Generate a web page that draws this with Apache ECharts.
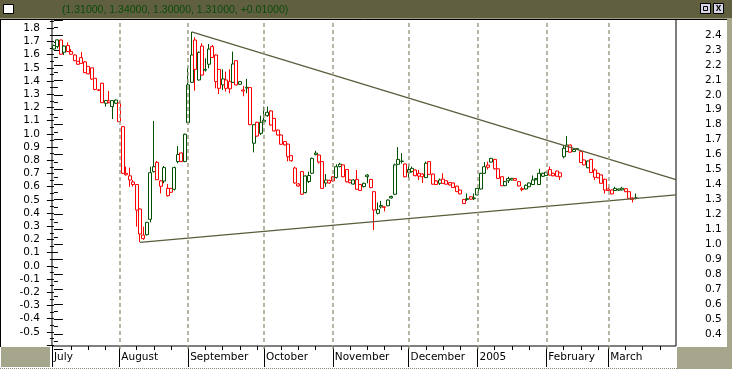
<!DOCTYPE html>
<html><head><meta charset="utf-8">
<script src="https://cdn.jsdelivr.net/npm/echarts@6/dist/echarts.min.js"></script>
<style>html,body{margin:0;padding:0;background:#fff;}#c{width:732px;height:384px;}</style>
</head><body><div id="c"></div>
<script>
// Month labels on the time axis
const monthNames = ['July','August','September','October','November','December','2005','February','March'];
// Header quote: open, high, low, close, change
const headerQuote = [1.31, 1.34, 1.30, 1.31, 0.01];
// Daily bars per month: [open, close, low, high]
const julBars = [
 [2.306,2.329,2.300,2.335],[2.322,2.367,2.310,2.370],[2.366,2.271,2.268,2.370],[2.284,2.326,2.266,2.330],
 [2.329,2.289,2.285,2.350],[2.289,2.271,2.268,2.306],[2.266,2.228,2.225,2.270],[2.204,2.224,2.200,2.226],
 [2.248,2.210,2.207,2.286],[2.220,2.148,2.145,2.225],[2.190,2.140,2.137,2.190],[2.180,2.105,2.100,2.180],
 [2.110,2.035,2.030,2.110],[2.032,2.030,2.025,2.037],[2.077,1.947,1.945,2.080],[1.943,1.961,1.921,1.965],
 [1.959,1.947,1.943,2.025],[1.921,1.961,1.838,1.963],[1.943,1.965,1.940,1.968]
];
const augBars = [
 [1.945,1.820,1.818,1.960],[1.787,1.475,1.472,1.790],[1.475,1.465,1.460,1.520],[1.430,1.458,1.385,1.513],
 [1.417,1.400,1.386,1.430],[1.400,1.229,1.118,1.403],[1.236,1.069,1.015,1.240],[1.038,1.062,1.030,1.118],
 [1.064,1.147,1.060,1.150],[1.167,1.479,1.147,1.519],[1.486,1.519,1.480,1.825],[1.548,1.432,1.430,1.557],
 [1.388,1.424,1.340,1.430],[1.423,1.513,1.408,1.524],[1.325,1.374,1.319,1.403],[1.374,1.348,1.345,1.376],
 [1.368,1.513,1.360,1.520],[1.553,1.600,1.542,1.657],[1.611,1.553,1.550,1.615],[1.553,1.736,1.550,1.740]
];
const sepBars = [
 [1.813,2.066,1.810,2.184],[2.083,2.266,2.080,2.420],[2.366,2.170,2.028,2.384],[2.099,2.284,2.095,2.290],
 [2.326,2.132,2.130,2.344],[2.170,2.165,2.155,2.244],[2.204,2.306,2.177,2.340],[2.322,2.250,2.245,2.333],
 [2.266,2.088,2.043,2.270],[2.170,2.043,2.005,2.172],[2.066,2.106,2.032,2.170],[2.099,2.043,2.021,2.155],
 [2.088,2.040,2.010,2.170],[2.083,2.206,2.080,2.289],[2.228,2.066,2.063,2.230],[2.088,2.070,2.065,2.090],
 [2.032,2.025,1.990,2.059],[2.045,2.050,2.010,2.106],[2.048,1.800,1.797,2.050],[1.676,1.800,1.615,1.802],
 [1.816,1.724,1.720,1.820],[1.742,1.816,1.731,1.860]
];
const octBars = [
 [1.830,1.820,1.815,1.921],[1.860,1.883,1.853,1.921],[1.892,1.798,1.795,1.898],[1.842,1.758,1.755,1.845],
 [1.764,1.731,1.728,1.767],[1.731,1.669,1.665,1.734],[1.687,1.665,1.662,1.690],[1.670,1.586,1.555,1.673],
 [1.593,1.559,1.553,1.597],[1.510,1.410,1.405,1.520],[1.390,1.404,1.385,1.410],[1.486,1.335,1.330,1.490],
 [1.346,1.457,1.340,1.460],[1.420,1.460,1.410,1.486],[1.475,1.575,1.470,1.580],[1.610,1.600,1.595,1.625],
 [1.597,1.550,1.540,1.600],[1.553,1.374,1.370,1.556],[1.410,1.430,1.385,1.470],[1.410,1.428,1.405,1.432]
];
const novBars = [
 [1.452,1.424,1.420,1.455],[1.447,1.519,1.440,1.535],[1.536,1.520,1.515,1.545],[1.531,1.452,1.448,1.535],
 [1.500,1.418,1.414,1.503],[1.430,1.412,1.408,1.434],[1.403,1.430,1.400,1.435],[1.434,1.368,1.365,1.497],
 [1.400,1.360,1.357,1.404],[1.386,1.408,1.380,1.412],[1.452,1.463,1.408,1.470],[1.434,1.379,1.375,1.437],
 [1.352,1.229,1.096,1.355],[1.207,1.232,1.200,1.280],[1.250,1.260,1.240,1.290],[1.250,1.248,1.220,1.253],
 [1.258,1.296,1.255,1.300],[1.320,1.310,1.305,1.325],[1.335,1.531,1.330,1.540],[1.568,1.535,1.530,1.650],
 [1.556,1.555,1.540,1.610],[1.537,1.452,1.448,1.540]
];
const decBars = [
 [1.500,1.480,1.440,1.530],[1.486,1.508,1.480,1.520],[1.497,1.459,1.455,1.500],[1.475,1.456,1.430,1.497],
 [1.470,1.452,1.410,1.475],[1.446,1.542,1.443,1.553],[1.553,1.468,1.465,1.557],[1.470,1.402,1.400,1.473],
 [1.424,1.400,1.397,1.427],[1.408,1.430,1.397,1.440],[1.436,1.408,1.405,1.475],[1.425,1.402,1.400,1.428],
 [1.413,1.397,1.395,1.416],[1.410,1.380,1.377,1.413],[1.389,1.352,1.350,1.392],[1.363,1.337,1.334,1.366],
 [1.272,1.300,1.270,1.303],[1.300,1.305,1.290,1.340],[1.318,1.302,1.298,1.320],[1.305,1.310,1.296,1.340]
];
const janBars = [
 [1.330,1.374,1.327,1.377],[1.370,1.475,1.367,1.478],[1.475,1.519,1.470,1.550],[1.530,1.515,1.500,1.553],
 [1.550,1.575,1.547,1.578],[1.568,1.505,1.500,1.571],[1.505,1.441,1.438,1.508],[1.452,1.392,1.389,1.455],
 [1.392,1.419,1.389,1.422],[1.440,1.425,1.410,1.452],[1.441,1.430,1.427,1.444],[1.440,1.428,1.425,1.443],
 [1.419,1.390,1.387,1.422],[1.372,1.366,1.355,1.385],[1.370,1.395,1.367,1.400],[1.385,1.410,1.382,1.413],
 [1.400,1.430,1.397,1.460],[1.440,1.432,1.428,1.443],[1.400,1.475,1.397,1.505],[1.455,1.475,1.450,1.478]
];
const febBars = [
 [1.460,1.482,1.457,1.485],[1.500,1.463,1.460,1.520],[1.475,1.458,1.455,1.478],[1.490,1.455,1.452,1.493],
 [1.478,1.452,1.430,1.480],[1.586,1.642,1.575,1.664],[1.620,1.664,1.617,1.724],[1.664,1.616,1.613,1.667],
 [1.620,1.634,1.617,1.637],[1.640,1.635,1.632,1.643],[1.620,1.547,1.544,1.623],[1.564,1.531,1.528,1.567],
 [1.512,1.557,1.509,1.560],[1.568,1.480,1.477,1.571],[1.497,1.448,1.430,1.508],[1.475,1.445,1.442,1.478],
 [1.464,1.408,1.405,1.467],[1.435,1.363,1.340,1.438]
];
const marBars = [
 [1.370,1.360,1.357,1.385],[1.363,1.337,1.334,1.366],[1.374,1.360,1.357,1.385],[1.370,1.362,1.358,1.373],
 [1.375,1.364,1.360,1.385],[1.372,1.352,1.349,1.375],[1.352,1.3075,1.305,1.355],[1.310,1.300,1.280,1.315],
 [1.310,1.310,1.300,1.340]
];
// Trend lines: [day index, price]
const upperTrend = [[40, 2.42], [180.66, 1.433]];
const lowerTrend = [[25, 1.013], [180.66, 1.330]];

const monthBars = [julBars, augBars, sepBars, octBars, novBars, decBars, janBars, febBars, marBars];
const bars = [].concat(...monthBars);
const monthStarts = [];
{ let acc = 0; monthBars.forEach(m => { monthStarts.push(acc); acc += m.length; }); }
const X_MIN = -0.55, X_MAX = 180.66;
const tickVals = [X_MIN].concat(monthStarts.slice(1));
const weekTicks = [];
monthStarts.forEach((s, i) => {
  const end = i + 1 < monthStarts.length ? monthStarts[i + 1] : X_MAX;
  for (let t = s + 5; t < end - 1; t += 5) weekTicks.push(t);
});
const GREEN = '#005000', RED = '#ff0000';
const candleData = bars.map((b, i) => {
  const prev = i > 0 ? bars[i - 1][1] : b[1];
  const col = b[1] >= prev ? GREEN : RED;
  return { value: [i, b[0], b[1], b[2], b[3]],
    itemStyle: { color: '#ffffff', color0: col, borderColor: col, borderColor0: col, borderColorDoji: col } };
});
const headerText = '(' + headerQuote.slice(0, 4).map(v => v.toFixed(5)).join(', ') + ', +' + headerQuote[4].toFixed(5) + ')';
const AX_FONT = { color: '#000', fontFamily: 'DejaVu Sans', fontSize: 10.5 };
const OLIVE_BOX = '#a6a68c';

const chart = echarts.init(document.getElementById('c'), null, { renderer: 'canvas' });
chart.setOption({
  animation: false,
  backgroundColor: '#ffffff',
  grid: [
    { left: 52, right: 56, top: 19, bottom: 38, show: true, borderColor: '#000', borderWidth: 1, backgroundColor: '#fff' },
    { left: 52, right: 56, top: 20, bottom: 35 },
    { left: 52, right: 56, top: 15, bottom: 39 }
  ],
  xAxis: [
    { gridIndex: 0, type: 'value', min: X_MIN, max: X_MAX, position: 'bottom',
      axisLine: { show: false }, splitLine: { show: false },
      axisTick: { show: true, customValues: tickVals, length: 21, lineStyle: { color: '#000', width: 1 } },
      axisLabel: Object.assign({ show: true, customValues: tickVals, align: 'left', margin: 6, padding: [0, 0, 0, 2],
        formatter: v => { let k = 0; tickVals.forEach((t, i) => { if (Math.abs(t - v) < 0.01) k = i; }); return monthNames[k]; } }, AX_FONT) },
    { gridIndex: 0, type: 'value', min: X_MIN, max: X_MAX, position: 'bottom',
      axisLine: { show: false }, splitLine: { show: false }, axisLabel: { show: false },
      axisTick: { show: true, customValues: weekTicks, length: 4, lineStyle: { color: '#000', width: 1 } } },
    { gridIndex: 1, type: 'value', min: X_MIN, max: X_MAX, show: false },
    { gridIndex: 2, type: 'value', min: X_MIN, max: X_MAX, show: false }
  ],
  yAxis: [
    { gridIndex: 0, type: 'value', min: 0, max: 1, show: false },
    { gridIndex: 1, type: 'value', position: 'right', min: 0.3, max: 2.5, interval: 0.1,
      axisLine: { show: false }, splitLine: { show: false },
      axisTick: { show: true, length: 9, lineStyle: { color: '#000' } },
      minorTick: { show: true, splitNumber: 2, length: 4, lineStyle: { color: '#000' } },
      axisLabel: Object.assign({ margin: 29, showMinLabel: false, showMaxLabel: false, formatter: v => v.toFixed(1) }, AX_FONT) },
    { gridIndex: 2, type: 'value', position: 'left', min: -0.6, max: 1.9, interval: 0.1,
      axisLine: { show: false }, splitLine: { show: false },
      axisTick: { show: true, length: 7, lineStyle: { color: '#000' } },
      minorTick: { show: true, splitNumber: 2, length: 4, lineStyle: { color: '#000' } },
      axisLabel: Object.assign({ margin: 12, showMinLabel: false, showMaxLabel: false, formatter: v => v.toFixed(1) }, AX_FONT) }
  ],
  series: [
    { type: 'line', xAxisIndex: 2, yAxisIndex: 1, data: [], silent: true, z: 1,
      markLine: { silent: true, symbol: ['none', 'none'], label: { show: false }, animation: false,
        lineStyle: { color: '#a09e86', type: [4, 3], width: 1.5 },
        data: monthStarts.slice(1).map(v => ({ xAxis: v })) } },
    { type: 'candlestick', xAxisIndex: 2, yAxisIndex: 1, barWidth: 3.5, z: 3, data: candleData,
      itemStyle: { borderWidth: 1 } },
    { type: 'line', xAxisIndex: 2, yAxisIndex: 1, data: upperTrend, symbol: 'none', silent: true, z: 4,
      lineStyle: { color: '#5c5c3c', width: 1.3 } },
    { type: 'line', xAxisIndex: 2, yAxisIndex: 1, data: lowerTrend, symbol: 'none', silent: true, z: 4,
      lineStyle: { color: '#5c5c3c', width: 1.3 } }
  ],
  graphic: [
    { type: 'rect', z: 100, shape: { x: 0, y: 0, width: 732, height: 18 }, style: { fill: '#606040' } },
    { type: 'line', z: 101, shape: { x1: 0, y1: 18.5, x2: 727, y2: 18.5 }, style: { stroke: '#a0a080', lineWidth: 1 } },
    { type: 'line', z: 101, shape: { x1: 0, y1: 19.5, x2: 727, y2: 19.5 }, style: { stroke: '#000', lineWidth: 1 } },
    { type: 'line', z: 101, shape: { x1: 0.5, y1: 19, x2: 0.5, y2: 347 }, style: { stroke: '#000', lineWidth: 1 } },
    { type: 'rect', z: 101, shape: { x: 3.5, y: 4.5, width: 10, height: 9 }, style: { fill: '#ffffff', stroke: '#000', lineWidth: 1 } },
    { type: 'text', z: 101, x: 62, y: 10, style: { text: headerText, fill: '#0a4a0a', font: '10.5px "Liberation Sans"', textVerticalAlign: 'middle' } },
    { type: 'rect', z: 101, shape: { x: 700.5, y: 3.5, width: 10, height: 10 }, style: { fill: '#d6d6e6', stroke: '#000', lineWidth: 1 } },
    { type: 'rect', z: 102, shape: { x: 703.5, y: 6.5, width: 4, height: 4 }, style: { fill: 'none', stroke: '#000', lineWidth: 1 } },
    { type: 'rect', z: 101, shape: { x: 713.5, y: 3.5, width: 10, height: 10 }, style: { fill: '#d6d6e6', stroke: '#000', lineWidth: 1 } },
    { type: 'text', z: 102, x: 718.5, y: 8.5, style: { text: 'x', fill: '#000', font: 'bold 10px "Liberation Sans"', textAlign: 'center', textVerticalAlign: 'middle' } },
    { type: 'rect', z: 100, shape: { x: 727, y: 18, width: 5, height: 351 }, style: { fill: OLIVE_BOX } },
    { type: 'rect', z: 100, shape: { x: 1, y: 347, width: 49, height: 20 }, style: { fill: OLIVE_BOX } },
    { type: 'rect', z: 100, shape: { x: 677, y: 347, width: 55, height: 22 }, style: { fill: OLIVE_BOX } },
    { type: 'line', z: 100, shape: { x1: 0, y1: 368.5, x2: 677, y2: 368.5 }, style: { stroke: '#8a8a78', lineWidth: 1, lineDash: [1, 1] } }
  ]
});
</script></body></html>
